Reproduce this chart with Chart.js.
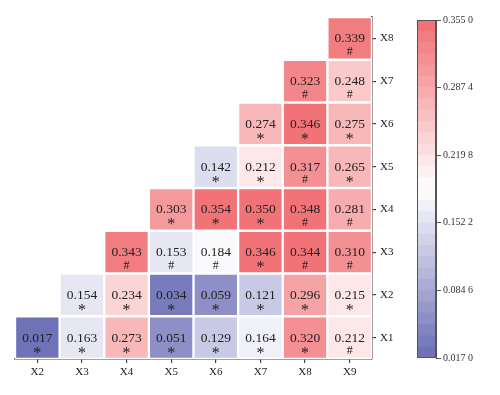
<!DOCTYPE html>
<html>
<head>
    <title>Heatmap</title>
    <script src="https://cdn.jsdelivr.net/npm/chart.js"></script>
    <style>
        body { margin: 0; background: #fff; }
        #wrap { position: relative; width: 500px; height: 395px; }
        #heat { position: absolute; left: 0; top: 0; }
        #bar { position: absolute; left: 400px; top: 0; }
    </style>
</head>
<body>
<div id="wrap">
    <canvas id="heat" width="500" height="395" style="width:500px;height:395px"></canvas>
    <canvas id="bar" width="100" height="395" style="width:100px;height:395px"></canvas>
</div>
<script>
    // columns along the bottom, rows along the right side (X1 at the bottom)
    const colLabels = ['X2', 'X3', 'X4', 'X5', 'X6', 'X7', 'X8', 'X9'];
    const rowLabels = ['X1', 'X2', 'X3', 'X4', 'X5', 'X6', 'X7', 'X8'];

    const rowX1 = [0.017, 0.163, 0.273, 0.051, 0.129, 0.164, 0.320, 0.212];
    const rowX2 = [null, 0.154, 0.234, 0.034, 0.059, 0.121, 0.296, 0.215];
    const rowX3 = [null, null, 0.343, 0.153, 0.184, 0.346, 0.344, 0.310];
    const rowX4 = [null, null, null, 0.303, 0.354, 0.350, 0.348, 0.281];
    const rowX5 = [null, null, null, null, 0.142, 0.212, 0.317, 0.265];
    const rowX6 = [null, null, null, null, null, 0.274, 0.346, 0.275];
    const rowX7 = [null, null, null, null, null, null, 0.323, 0.248];
    const rowX8 = [null, null, null, null, null, null, null, 0.339];

    const signX1 = ['*', '*', '*', '*', '*', '*', '*', '#'];
    const signX2 = ['', '*', '*', '*', '*', '*', '*', '*'];
    const signX3 = ['', '', '#', '#', '#', '*', '#', '#'];
    const signX4 = ['', '', '', '*', '*', '*', '#', '#'];
    const signX5 = ['', '', '', '', '*', '*', '#', '*'];
    const signX6 = ['', '', '', '', '', '*', '*', '*'];
    const signX7 = ['', '', '', '', '', '', '#', '#'];
    const signX8 = ['', '', '', '', '', '', '', '#'];

    const colorMin = 0.017;
    const colorMax = 0.355;
    const colorTicks = [0.017, 0.0846, 0.1522, 0.2198, 0.2874, 0.355];
    const colorTickLabels = ['0.017 0', '0.084 6', '0.152 2', '0.219 8', '0.287 4', '0.355 0'];
    const colorSteps = 30;

    const rows = [rowX1, rowX2, rowX3, rowX4, rowX5, rowX6, rowX7, rowX8];
    const signs = [signX1, signX2, signX3, signX4, signX5, signX6, signX7, signX8];

    const lowRGB = [106, 109, 180];
    const midRGB = [255, 255, 255];
    const highRGB = [240, 110, 114];

    function colorAt(t) {
        let a, b, f;
        if (t < 0.5) { a = lowRGB; b = midRGB; f = t / 0.5; }
        else { a = midRGB; b = highRGB; f = (t - 0.5) / 0.5; }
        const c = a.map((x, k) => Math.round(x + (b[k] - x) * f));
        return 'rgb(' + c.join(',') + ')';
    }

    function colorFor(v) {
        const t = (v - colorMin) / (colorMax - colorMin);
        const band = Math.min(colorSteps - 1, Math.max(0, Math.floor(t * colorSteps)));
        return colorAt((band + 0.5) / colorSteps);
    }

    Chart.defaults.font.family = '"Liberation Serif", "Times New Roman", serif';
    Chart.defaults.color = '#222';

    function drawCentered(ctx, text, x, y, font) {
        ctx.font = font;
        const m = ctx.measureText(text);
        const asc = m.actualBoundingBoxAscent, desc = m.actualBoundingBoxDescent;
        ctx.fillText(text, x, y + (asc - desc) / 2);
    }

    const cellText = {
        id: 'cellText',
        afterDatasetsDraw(chart) {
            const ctx = chart.ctx;
            ctx.save();
            ctx.fillStyle = '#222';
            ctx.textAlign = 'center';
            ctx.textBaseline = 'alphabetic';
            chart.data.datasets.forEach((ds, i) => {
                chart.getDatasetMeta(i).data.forEach((bar, j) => {
                    const v = ds.values[j];
                    if (v == null) return;
                    const p = bar.getProps(['x', 'y', 'base'], true);
                    const cy = (p.y + p.base) / 2;
                    const mark = ds.signs[j];
                    drawCentered(ctx, v.toFixed(3), p.x, cy, '13.5px "Liberation Serif"');
                    drawCentered(ctx, mark, p.x, cy + 12.5, (mark === '#' ? '12px' : '16px') + ' "Liberation Serif"');
                });
            });
            ctx.restore();
        }
    };

    new Chart(document.getElementById('heat'), {
        type: 'bar',
        data: {
            labels: colLabels,
            datasets: rows.map((row, r) => ({
                data: row.map(v => v == null ? null : [r + 0.5, r + 1.5]),
                backgroundColor: row.map(v => v == null ? 'rgba(0,0,0,0)' : colorFor(v)),
                borderColor: '#ffffff',
                borderWidth: 1.5,
                borderSkipped: false,
                barPercentage: 1,
                categoryPercentage: 1,
                values: row,
                signs: signs[r]
            }))
        },
        options: {
            responsive: false,
            animation: false,
            events: [],
            layout: { padding: { left: 15, top: 17, right: 98, bottom: 10 } },
            plugins: { legend: { display: false }, tooltip: { enabled: false } },
            scales: {
                x: {
                    stacked: true,
                    grid: { offset: false, drawOnChartArea: false, tickLength: 4, color: '#444', lineWidth: 1.2 },
                    border: { color: '#444', width: 1.5 },
                    ticks: { font: { size: 11 }, color: '#222', padding: 3 },
                    afterFit: s => { s.height = 26; }
                },
                y: {
                    position: 'right',
                    min: 0.5,
                    max: 8.5,
                    afterBuildTicks: s => { s.ticks = rowLabels.map((_, i) => ({ value: i + 1 })); },
                    grid: { drawOnChartArea: false, tickLength: 4, color: '#444', lineWidth: 1.2 },
                    border: { color: '#444', width: 1.5 },
                    ticks: { font: { size: 11 }, color: '#222', padding: 4, callback: (v, i) => rowLabels[i] },
                    afterFit: s => { s.width = 30; }
                }
            }
        },
        plugins: [cellText]
    });

    // colour bar
    const bandSize = (colorMax - colorMin) / colorSteps;
    const outline = {
        id: 'outline',
        afterDraw(chart) {
            const a = chart.chartArea, ctx = chart.ctx;
            ctx.save();
            ctx.strokeStyle = '#555';
            ctx.lineWidth = 1;
            ctx.strokeRect(a.left + 0.5, a.top + 0.5, a.right - a.left - 1, a.bottom - a.top - 1);
            ctx.restore();
        }
    };

    new Chart(document.getElementById('bar'), {
        type: 'bar',
        data: {
            labels: [''],
            datasets: Array.from({ length: colorSteps }, (_, i) => ({
                data: [[colorMin + i * bandSize, colorMin + (i + 1) * bandSize]],
                backgroundColor: colorAt((i + 0.5) / colorSteps),
                borderWidth: 0,
                barPercentage: 1,
                categoryPercentage: 1
            }))
        },
        options: {
            responsive: false,
            animation: false,
            events: [],
            layout: { padding: { left: 17, top: 20, right: 0, bottom: 37 } },
            plugins: { legend: { display: false }, tooltip: { enabled: false } },
            scales: {
                x: { display: false, stacked: true },
                y: {
                    position: 'right',
                    min: colorMin,
                    max: colorMax,
                    afterBuildTicks: s => { s.ticks = colorTicks.map(v => ({ value: v })); },
                    grid: { drawOnChartArea: false, tickLength: 5, color: '#555' },
                    border: { color: '#555', width: 1 },
                    ticks: { font: { size: 10 }, color: '#333', padding: 2, callback: (v, i) => colorTickLabels[i] },
                    afterFit: s => { s.width = 64; }
                }
            }
        },
        plugins: [outline]
    });
</script>
</body>
</html>
